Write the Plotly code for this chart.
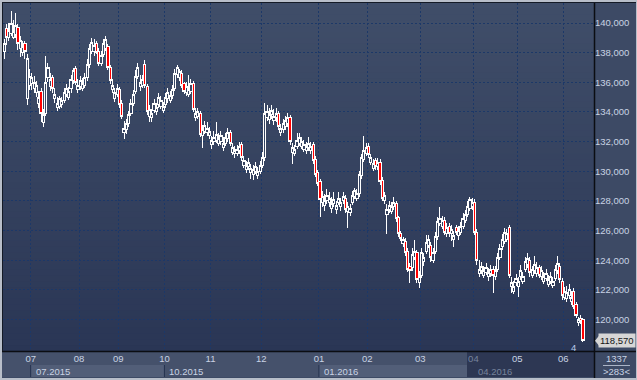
import plotly.graph_objects as go

# ---------------- data ----------------
month_names = ['07', '08', '09', '10', '11', '12', '01', '02', '03', '04', '05', '06']
# bars in each month: first entry = tail of June 2015, then Jul 2015 ... Jun 2016
bars_per_month = [12, 21, 17, 20, 20, 22, 25, 21, 23, 23, 19, 20, 9]
quarter_labels = ['07.2015', '10.2015', '01.2016', '04.2016']
quarter_months = ['07', '10', '01', '04']
price_ticks = [120000, 122000, 124000, 126000, 128000, 130000, 132000, 134000, 136000, 138000, 140000]
bar_counter = '4'
info_top = '1337'
info_bottom = '>283<'

# prices in thousands
open_k = [
    138.1, 139.6, 139.0, 139.3, 139.0, 139.2, 139.7, 138.3, 138.0, 138.6, 134.9, 135.8,
    135.9, 135.6, 135.3, 134.6, 135.4, 133.3, 133.9, 136.3, 135.7, 136.3, 134.9, 134.3,
    134.4, 134.5, 134.8, 135.2, 135.0, 135.6, 136.1, 136.9, 135.5, 135.7, 135.6, 135.8,
    136.3, 137.2, 138.1, 138.1, 138.6, 138.1, 137.3, 137.9, 138.3, 138.4, 137.0, 135.5,
    134.9, 135.2, 135.5, 134.6, 132.6, 132.8, 133.2, 133.9, 134.6, 135.4, 136.4, 135.7,
    135.8, 137.2, 135.7, 133.7, 133.6, 134.1, 134.0, 134.5, 134.4, 134.1, 134.5, 134.9,
    134.8, 135.1, 135.6, 136.5, 136.3, 136.6, 135.9, 135.3, 135.2, 135.4, 135.9, 133.6,
    133.7, 133.9, 132.4, 132.7, 132.6, 132.4, 131.8, 132.0, 132.1, 131.9, 132.0, 131.6,
    131.9, 132.2, 132.6, 131.3, 131.2, 131.2, 131.4, 131.8, 130.4, 130.1, 130.3, 129.9,
    129.8, 130.0, 129.7, 130.0, 130.4, 130.9, 133.6, 133.5, 133.8, 133.4, 133.6, 133.9,
    132.6, 132.8, 133.0, 133.2, 133.6, 131.3, 131.2, 131.7, 131.9, 131.7, 131.5, 131.4,
    131.6, 131.4, 131.8, 130.8, 129.9, 129.3, 127.9, 127.7, 128.0, 127.9, 127.5, 127.8,
    127.4, 127.9, 127.6, 128.0, 128.2, 127.3, 127.2, 127.9, 128.3, 128.2, 128.5, 129.7,
    130.8, 131.2, 131.7, 130.6, 130.2, 130.7, 130.3, 130.6, 129.4, 128.0, 127.1, 127.4,
    127.3, 127.6, 127.8, 126.9, 125.8, 125.1, 125.3, 124.6, 123.6, 123.5, 124.2, 124.5,
    122.5, 123.0, 123.9, 124.6, 125.0, 125.0, 124.0, 124.6, 125.6, 126.5, 126.3, 126.7,
    125.8, 126.3, 125.8, 125.4, 126.2, 125.7, 125.9, 126.3, 126.7, 127.1, 127.5, 127.6,
    127.9, 125.9, 123.1, 123.3, 123.0, 123.2, 122.9, 123.1, 123.4, 122.9, 123.4, 124.2,
    124.9, 125.3, 125.4, 126.2, 122.2, 121.9, 122.5, 122.2, 122.9, 122.6, 123.4, 123.7,
    124.0, 123.0, 123.3, 123.1, 123.5, 122.9, 122.6, 122.8, 122.4, 122.6, 122.3, 122.8,
    123.3, 123.6, 122.6, 121.5, 121.4, 121.6, 121.2, 121.9, 121.0, 119.8, 120.1, 120.0,
]
high_k = [
    138.9, 139.9, 140.0, 140.8, 140.2, 140.7, 139.9, 139.1, 138.8, 138.8, 137.9, 136.9,
    136.6, 136.4, 136.1, 135.4, 135.6, 134.2, 137.8, 137.3, 136.6, 136.5, 135.6, 135.0,
    135.1, 135.0, 135.6, 135.9, 135.7, 136.5, 137.0, 137.1, 136.2, 136.4, 136.3, 136.6,
    137.6, 138.6, 139.0, 138.9, 138.8, 138.3, 138.1, 138.9, 139.1, 138.6, 137.2, 136.2,
    135.6, 135.9, 135.7, 134.8, 133.4, 133.5, 134.1, 134.9, 135.5, 136.8, 137.3, 136.5,
    136.5, 137.5, 135.9, 134.5, 134.2, 134.9, 134.6, 135.3, 135.1, 134.7, 135.3, 135.6,
    135.4, 135.8, 136.9, 137.2, 136.9, 136.8, 136.0, 136.0, 136.5, 136.2, 136.1, 134.3,
    134.3, 134.1, 133.1, 133.4, 133.3, 133.0, 132.4, 132.7, 133.3, 132.6, 132.7, 132.3,
    132.6, 132.9, 132.8, 131.9, 131.7, 131.8, 132.0, 132.0, 131.0, 130.7, 130.9, 130.5,
    130.4, 130.6, 130.3, 130.7, 131.3, 134.6, 134.5, 134.3, 134.5, 134.2, 134.3, 134.1,
    133.2, 133.5, 133.7, 133.9, 133.8, 131.9, 131.8, 132.6, 132.6, 132.3, 132.1, 132.0,
    132.3, 132.0, 132.0, 131.0, 130.1, 129.5, 128.7, 128.5, 128.8, 128.6, 128.3, 128.6,
    128.0, 128.6, 128.2, 128.6, 128.4, 127.9, 127.8, 128.7, 128.9, 128.8, 130.0, 131.2,
    132.4, 131.9, 131.9, 131.2, 130.8, 130.9, 130.9, 130.8, 129.6, 128.6, 127.8, 128.0,
    127.9, 128.3, 128.0, 127.0, 126.0, 125.6, 125.5, 124.8, 123.8, 124.8, 125.4, 124.7,
    123.3, 124.8, 124.5, 125.7, 125.7, 125.2, 124.8, 125.9, 126.9, 127.6, 127.0, 126.9,
    126.5, 126.5, 126.4, 126.0, 126.4, 126.3, 126.6, 127.2, 127.4, 128.0, 128.3, 128.2,
    128.1, 126.1, 124.0, 123.9, 123.6, 123.8, 123.5, 123.7, 123.6, 123.6, 124.5, 125.1,
    125.8, 126.2, 126.1, 126.4, 122.9, 122.6, 123.1, 122.9, 123.7, 123.2, 124.2, 124.5,
    124.2, 123.6, 124.3, 123.9, 123.7, 123.6, 123.2, 123.4, 123.0, 123.2, 122.9, 123.7,
    124.3, 123.8, 122.8, 122.2, 122.3, 122.4, 121.9, 122.1, 121.2, 120.2, 120.3, 120.1,
]
low_k = [
    137.6, 138.5, 138.8, 139.1, 138.9, 139.0, 138.2, 137.7, 137.8, 137.6, 134.5, 135.5,
    135.5, 135.3, 135.0, 134.3, 133.3, 133.0, 133.7, 136.0, 135.4, 135.3, 134.6, 134.1,
    134.2, 134.3, 134.6, 135.0, 134.8, 135.3, 135.9, 135.8, 135.3, 135.5, 135.4, 135.6,
    136.1, 137.0, 137.9, 137.8, 137.9, 137.1, 137.1, 137.7, 138.1, 136.8, 135.9, 135.3,
    134.7, 135.0, 134.3, 133.5, 132.2, 132.5, 133.0, 133.7, 134.4, 135.2, 136.2, 135.4,
    135.6, 135.6, 133.8, 133.3, 133.3, 133.9, 133.8, 134.3, 134.2, 133.9, 134.3, 134.6,
    134.6, 134.9, 135.4, 136.3, 136.1, 135.6, 135.2, 135.1, 135.0, 135.2, 134.0, 133.4,
    133.5, 132.3, 131.6, 132.5, 132.4, 132.2, 131.5, 131.8, 131.9, 131.7, 131.8, 131.4,
    131.7, 132.0, 131.7, 131.1, 130.9, 131.0, 131.2, 130.7, 130.2, 129.9, 130.1, 129.5,
    129.4, 129.8, 129.5, 129.8, 130.2, 130.7, 133.4, 133.2, 133.5, 133.1, 133.3, 132.8,
    132.4, 132.6, 132.8, 133.0, 131.8, 130.5, 131.0, 131.5, 131.7, 131.5, 131.3, 131.2,
    131.4, 131.2, 130.5, 129.6, 129.0, 126.9, 127.6, 127.3, 127.8, 127.6, 127.2, 127.6,
    127.1, 127.7, 127.3, 127.8, 127.2, 126.2, 127.0, 127.7, 128.1, 128.0, 128.3, 129.5,
    130.6, 131.0, 130.9, 130.4, 130.0, 130.1, 130.1, 129.1, 128.0, 127.8, 125.8, 127.2,
    127.1, 127.4, 126.6, 125.6, 125.3, 124.9, 124.3, 123.2, 122.5, 123.3, 124.0, 122.5,
    122.1, 122.8, 123.6, 124.4, 124.8, 123.9, 123.8, 124.4, 125.4, 126.3, 126.1, 125.7,
    125.6, 125.6, 125.3, 124.9, 125.7, 125.4, 125.7, 126.1, 126.5, 126.9, 127.3, 127.4,
    125.7, 123.7, 122.9, 123.1, 122.8, 123.0, 122.6, 122.9, 121.8, 122.7, 123.2, 124.0,
    124.7, 125.1, 125.2, 122.8, 121.8, 121.7, 122.3, 121.5, 122.7, 122.4, 123.2, 123.5,
    122.9, 122.8, 123.1, 122.9, 122.8, 122.7, 122.4, 122.6, 122.2, 122.4, 122.1, 122.6,
    123.1, 122.5, 121.3, 121.3, 121.2, 121.4, 121.0, 120.7, 120.1, 119.6, 119.7, 118.5,
]
close_k = [
    138.6, 139.0, 139.5, 140.0, 139.4, 139.8, 138.6, 138.8, 138.4, 138.1, 137.6, 136.4,
    136.3, 136.0, 135.8, 135.0, 133.9, 133.8, 136.0, 137.0, 136.2, 135.6, 135.2, 134.6,
    134.9, 134.8, 135.3, 135.6, 135.4, 136.2, 136.8, 136.0, 135.8, 136.1, 135.9, 136.3,
    137.2, 138.3, 138.7, 138.5, 138.0, 137.3, 137.8, 138.6, 138.9, 137.0, 136.1, 135.8,
    135.3, 135.6, 134.5, 133.7, 132.9, 133.2, 133.8, 134.6, 135.2, 136.4, 137.0, 136.0,
    136.2, 135.8, 134.0, 134.2, 133.9, 134.6, 134.3, 135.0, 134.8, 134.4, 135.0, 135.3,
    135.1, 135.5, 136.6, 137.0, 136.7, 135.8, 135.4, 135.7, 135.5, 135.9, 134.2, 133.9,
    134.0, 132.5, 132.8, 133.1, 132.9, 132.7, 132.1, 132.3, 132.5, 132.2, 132.4, 131.9,
    132.3, 132.6, 131.9, 131.6, 131.4, 131.5, 131.7, 130.9, 130.7, 130.4, 130.6, 130.2,
    130.1, 130.3, 130.0, 130.4, 130.9, 133.9, 134.0, 133.8, 134.1, 133.7, 133.9, 133.0,
    132.9, 133.2, 133.4, 133.6, 132.0, 131.6, 131.5, 132.1, 132.3, 132.0, 131.8, 131.7,
    131.9, 131.7, 130.7, 129.8, 129.2, 128.1, 128.3, 128.0, 128.4, 128.2, 127.8, 128.1,
    127.7, 128.2, 127.9, 128.3, 127.4, 127.6, 127.5, 128.4, 128.7, 128.5, 129.8, 130.9,
    131.4, 131.6, 131.1, 130.9, 130.5, 130.3, 130.6, 129.3, 128.2, 128.4, 127.4, 127.7,
    127.6, 127.9, 126.8, 125.8, 125.5, 125.4, 124.5, 123.4, 123.3, 124.4, 124.6, 122.7,
    122.9, 124.5, 124.2, 125.2, 125.4, 124.2, 124.5, 125.6, 126.6, 126.8, 126.7, 125.9,
    126.2, 125.8, 126.1, 125.7, 125.9, 126.0, 126.3, 126.8, 127.1, 127.6, 128.1, 127.9,
    125.9, 124.0, 123.4, 123.6, 123.3, 123.5, 123.2, 123.4, 123.0, 123.3, 124.2, 124.8,
    125.4, 125.9, 125.8, 123.0, 122.5, 122.2, 122.8, 122.6, 123.3, 122.9, 123.9, 124.1,
    123.2, 123.4, 123.7, 123.5, 123.0, 123.3, 122.9, 123.1, 122.7, 122.9, 122.6, 123.4,
    123.8, 122.7, 121.6, 121.9, 121.8, 122.0, 121.5, 120.9, 120.3, 120.0, 119.9, 118.57,
]

# ---------------- derived ----------------
n = len(close_k)
xs = list(range(n))
o = [v * 1000 for v in open_k]
c = [v * 1000 for v in close_k]
h = [max(a, b, d) * 1000 for a, b, d in zip(high_k, open_k, close_k)]
l = [min(a, b, d) * 1000 for a, b, d in zip(low_k, open_k, close_k)]

starts = []
acc = 0
for cnt in bars_per_month[:-1]:
    acc += cnt
    starts.append(acc)
month_start = dict(zip(month_names, starts))

# ---------------- geometry / style ----------------
W, H = 637, 380
L, R, T, B = 3, 43, 3, 29
PW, PH = W - L - R, H - T - B
FONT = 'Liberation Sans'
TXT = '#c9d3e4'
DIM = '#76839c'


def fx(px):
    return (px - L) / PW


def fy(py):
    return (H - B - py) / PH


shapes = []
# vertical gradient background of plot area
top_rgb, bot_rgb = (64, 78, 105), (42, 54, 85)
NB = 60
for k in range(NB):
    t = (k + 0.5) / NB
    col = tuple(round(bot_rgb[j] + (top_rgb[j] - bot_rgb[j]) * t) for j in range(3))
    shapes.append(dict(type='rect', xref='paper', yref='paper', x0=0, x1=1,
                       y0=k / NB, y1=(k + 1) / NB + 0.002, layer='below',
                       line=dict(width=0), fillcolor='rgb(%d,%d,%d)' % col))
# bottom rows
shapes.append(dict(type='rect', xref='paper', yref='paper', x0=fx(0), x1=fx(594),
                   y0=fy(377), y1=fy(351), layer='below', line=dict(width=0), fillcolor='#45516b'))
for qi, qm in enumerate(quarter_months):
    if qi % 2 == 0 and qi + 1 < len(quarter_months):
        shapes.append(dict(type='rect', xref='x', yref='paper',
                           x0=month_start[qm] - 0.5, x1=month_start[quarter_months[qi + 1]] - 0.5,
                           y0=fy(377), y1=fy(365), layer='below', line=dict(width=0),
                           fillcolor='#525e78'))
    shapes.append(dict(type='line', xref='x', yref='paper',
                       x0=month_start[qm] - 0.5, x1=month_start[qm] - 0.5,
                       y0=fy(377), y1=fy(365), layer='below', line=dict(width=1, color='#24314f')))
# navigator thumb (dark) in bottom rows
shapes.append(dict(type='rect', xref='paper', yref='paper', x0=fx(467), x1=fx(594),
                   y0=fy(377), y1=fy(352), layer='below', line=dict(width=0), fillcolor='#2d3753'))
# separators
shapes.append(dict(type='line', xref='paper', yref='paper', x0=fx(0), x1=fx(W),
                   y0=fy(351.5), y1=fy(351.5), line=dict(width=1.5, color='#0b0d12')))
shapes.append(dict(type='line', xref='paper', yref='paper', x0=fx(594.5), x1=fx(594.5),
                   y0=fy(H), y1=fy(2), line=dict(width=1.5, color='#0b0d12')))
shapes.append(dict(type='line', xref='paper', yref='paper', x0=fx(603), x1=fx(630),
                   y0=fy(365.5), y1=fy(365.5), line=dict(width=1, color='#aab4c6')))
# outer frame
frame = '#b8bec9'
shapes.append(dict(type='rect', xref='paper', yref='paper', x0=fx(0), x1=fx(2), y0=fy(H), y1=fy(0),
                   line=dict(width=0), fillcolor=frame))
shapes.append(dict(type='rect', xref='paper', yref='paper', x0=fx(0), x1=fx(W), y0=fy(2), y1=fy(0),
                   line=dict(width=0), fillcolor=frame))
shapes.append(dict(type='rect', xref='paper', yref='paper', x0=fx(0), x1=fx(W), y0=fy(H), y1=fy(378),
                   line=dict(width=0), fillcolor=frame))
shapes.append(dict(type='rect', xref='paper', yref='paper', x0=fx(636), x1=fx(W), y0=fy(H), y1=fy(0),
                   line=dict(width=0), fillcolor=frame))
shapes.append(dict(type='line', xref='paper', yref='paper', x0=fx(2.5), x1=fx(2.5), y0=fy(351), y1=fy(2),
                   line=dict(width=1, color='#141a26')))
shapes.append(dict(type='line', xref='paper', yref='paper', x0=fx(2), x1=fx(636), y0=fy(2.5), y1=fy(2.5),
                   line=dict(width=1, color='#141a26')))
# last price pointer
shapes.append(dict(type='path', xref='paper', yref='y', xsizemode='pixel', ysizemode='pixel',
                   xanchor=fx(595), yanchor=c[-1], path='M0,0 L4,5 L4,-5 Z',
                   fillcolor='#d6d6d6', line=dict(width=0)))

annotations = []
for qi, (ql, qm) in enumerate(zip(quarter_labels, quarter_months)):
    annotations.append(dict(xref='x', yref='paper', x=month_start[qm] - 0.5, y=fy(371.5),
                            xanchor='left', yanchor='middle', xshift=3, showarrow=False, text=ql,
                            font=dict(family=FONT, size=9.5, color=DIM if qm == '04' else TXT)))
annotations.append(dict(xref='paper', yref='y', x=fx(598), y=c[-1], xanchor='left', yanchor='middle',
                        showarrow=False, text='{:,.0f}'.format(c[-1]), bgcolor='#d6d6d6',
                        borderpad=1, font=dict(family=FONT, size=9.5, color='#151515')))
annotations.append(dict(xref='paper', yref='paper', x=fx(573), y=fy(347), xanchor='center',
                        yanchor='middle', showarrow=False, text=bar_counter,
                        font=dict(family=FONT, size=9.5, color='#b9cbea')))
annotations.append(dict(xref='paper', yref='paper', x=fx(616.5), y=fy(358.5), xanchor='center',
                        yanchor='middle', showarrow=False, text=info_top,
                        font=dict(family=FONT, size=9.5, color=TXT)))
annotations.append(dict(xref='paper', yref='paper', x=fx(616.5), y=fy(371), xanchor='center',
                        yanchor='middle', showarrow=False, text=info_bottom,
                        font=dict(family=FONT, size=9.5, color=TXT)))

tick_text = [('<span style="color:%s">%s</span>' % (DIM, m)) if m == '04' else m for m in month_names]

fig = go.Figure(go.Candlestick(
    x=xs, open=o, high=h, low=l, close=c,
    increasing=dict(line=dict(color='#ffffff', width=1), fillcolor='rgba(0,0,0,0)'),
    decreasing=dict(line=dict(color='#ffffff', width=1), fillcolor='#ff0000'),
    whiskerwidth=0, hoverinfo='skip', showlegend=False,
))

grid_col = '#1c3868'
fig.update_layout(
    width=W, height=H,
    margin=dict(l=L, r=R, t=T, b=B, pad=0),
    paper_bgcolor='#3d4a65', plot_bgcolor='#3a4863',
    boxgap=0.0, boxgroupgap=0.05,
    hovermode=False, showlegend=False,
    shapes=shapes, annotations=annotations,
    xaxis=dict(range=[-0.5, n - 0.5 + 4.3], rangeslider=dict(visible=False),
               tickmode='array', tickvals=[s - 0.5 for s in starts], ticktext=tick_text,
               showgrid=True, gridcolor=grid_col, griddash='2px,2px', gridwidth=1,
               zeroline=False, showline=False, ticks='',
               tickfont=dict(family=FONT, size=9.5, color=TXT), fixedrange=True),
    yaxis=dict(range=[117883, 141349], side='right', tickmode='array', tickvals=price_ticks,
               tickformat=',.0f', showgrid=True, gridcolor=grid_col, griddash='2px,2px', gridwidth=1,
               zeroline=False, showline=False, ticks='',
               tickfont=dict(family=FONT, size=9.5, color=TXT), fixedrange=True),
)

post = (
    "document.body.style.margin='0';document.body.style.padding='0';"
    "document.body.style.overflow='hidden';"
    "var st=document.createElement('style');"
    "st.textContent='.boxlayer path{shape-rendering:crispEdges;}';"
    "document.head.appendChild(st);"
)
fig.write_html('out.html', config={'displayModeBar': False}, post_script=post)
